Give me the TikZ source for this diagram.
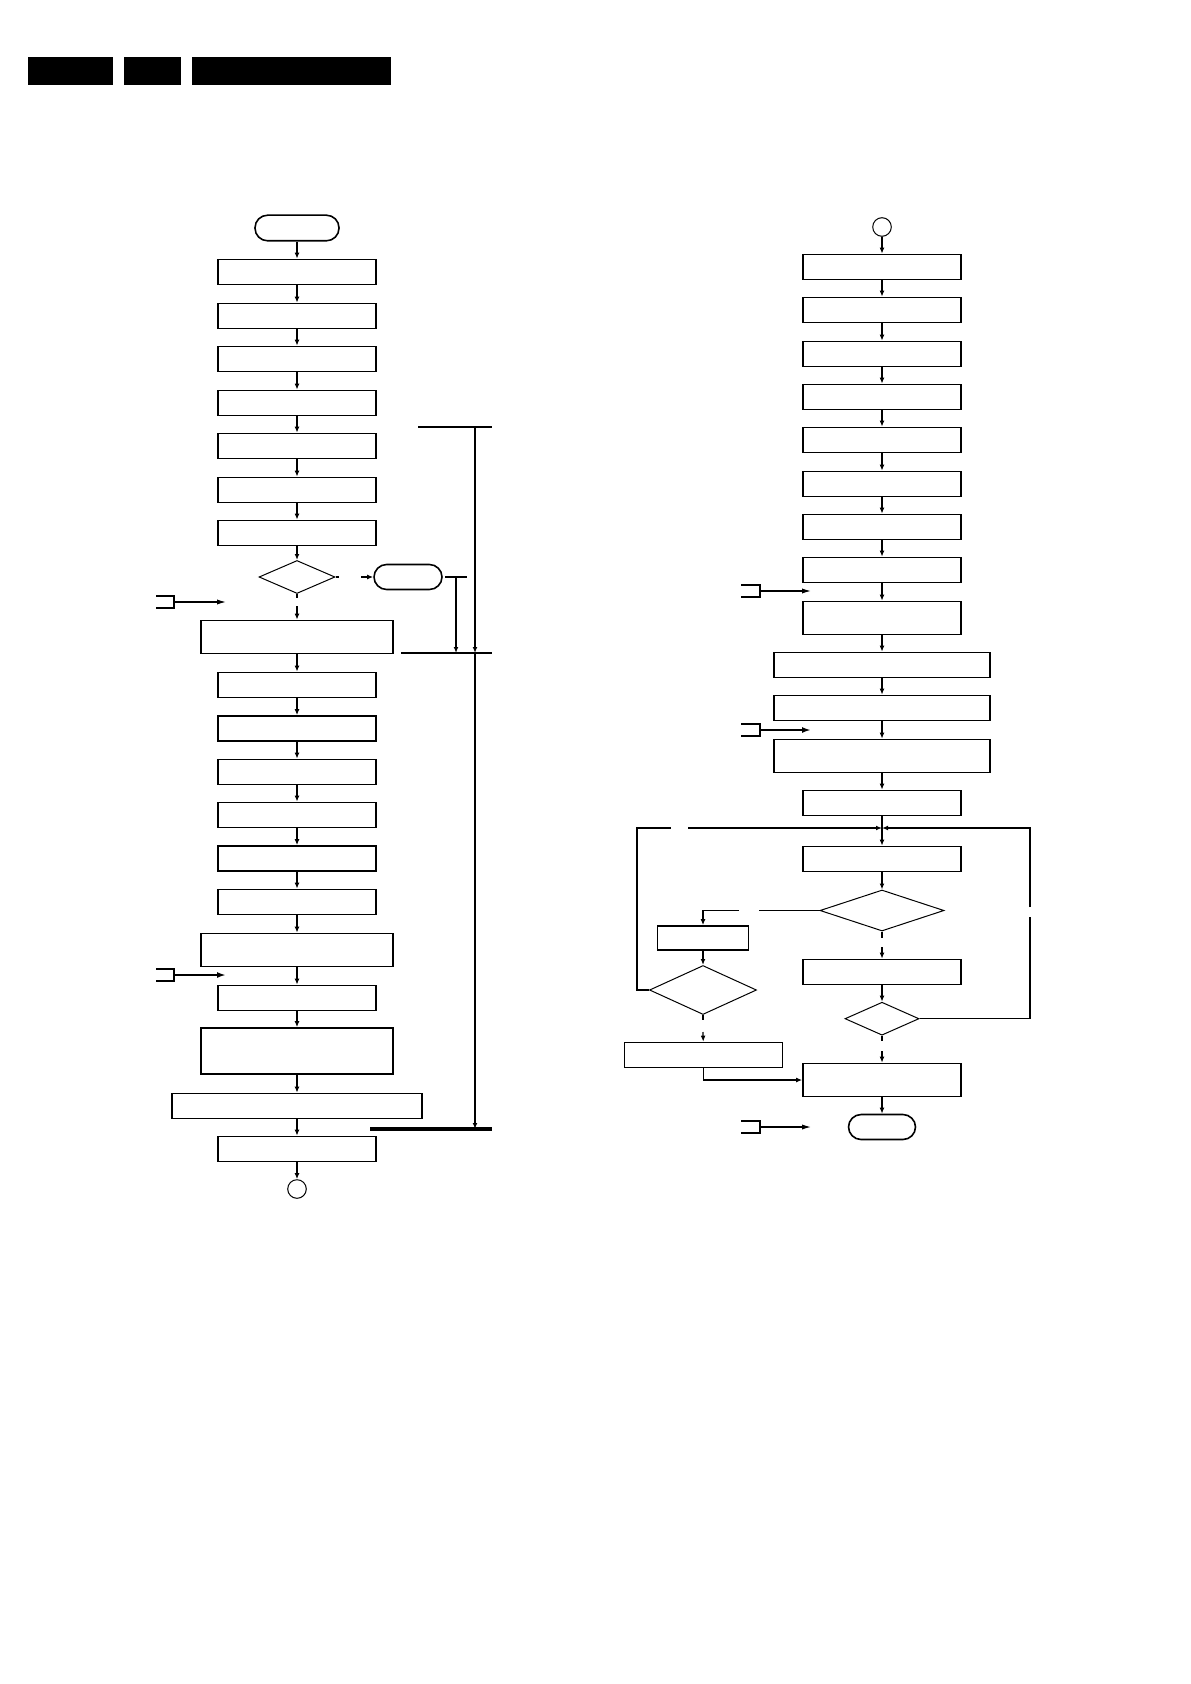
\documentclass[tikz,border=0pt]{standalone}
\usetikzlibrary{positioning, arrows.meta, shapes.geometric}

\tikzset{
  stepbox/.style={draw, line width=0.8pt, minimum width=79pt, minimum height=12.5pt, inner sep=0pt},
  widebox/.style={stepbox, minimum width=96pt, minimum height=16.5pt},
  termbox/.style={draw, line width=0.8pt, rounded corners=6.3pt, minimum width=42pt, minimum height=12.8pt, inner sep=0pt},
  testbox/.style={draw, diamond, line width=0.5pt, inner sep=0pt},
  joint/.style={draw, circle, line width=0.5pt, minimum size=9.3pt, inner sep=0pt},
  flow/.style={line width=0.6pt, -{Latex[length=3pt, width=2.4pt]}},
  plain/.style={line width=0.6pt},
  inflow/.style={line width=0.6pt, -{Latex[length=4.5pt, width=2.6pt]}},
  thickflow/.style={line width=1.4pt, -{Latex[length=4.5pt, width=3pt]}},
  inmark/.style={line width=0.7pt}
}

\begin{document}
\begin{tikzpicture}[x=0.5pt, y=-0.5pt]
  \useasboundingbox (0,0) rectangle (1190,1684);

  % header bars
  \fill (28,57) rectangle (113,85);
  \fill (124,57) rectangle (181,85);
  \fill (192,57) rectangle (391,85);

  % left column
  \node[termbox] (start) at (297,228) {};
  \node[stepbox] (a1) at (297,272) {};
  \node[stepbox] (a2) at (297,316) {};
  \node[stepbox] (a3) at (297,359) {};
  \node[stepbox] (a4) at (297,403) {};
  \node[stepbox] (a5) at (297,446) {};
  \node[stepbox] (a6) at (297,490) {};
  \node[stepbox] (a7) at (297,533) {};
  \node[testbox, minimum width=38pt, minimum height=16.5pt] (q1) at (297,577) {};
  \node[termbox, minimum width=34pt, minimum height=12.5pt] (stop1) at (408,577) {};
  \node[widebox] (a8) at (297,637) {};
  \node[stepbox] (a9) at (297,685) {};
  \node[stepbox] (a10) at (297,728.5) {};
  \node[stepbox] (a11) at (297,772) {};
  \node[stepbox] (a12) at (297,815) {};
  \node[stepbox] (a13) at (297,858.5) {};
  \node[stepbox] (a14) at (297,902) {};
  \node[widebox] (a15) at (297,950) {};
  \node[stepbox] (a16) at (297,998) {};
  \node[widebox, minimum height=23pt] (a17) at (297,1051) {};
  \node[stepbox, minimum width=125pt] (a18) at (297,1106) {};
  \node[stepbox] (a19) at (297,1149) {};
  \node[joint] (c1) at (297,1189) {};

  \foreach \u/\v in {start/a1, a1/a2, a2/a3, a3/a4, a4/a5, a5/a6, a6/a7, a7/q1,
                     a8/a9, a9/a10, a10/a11, a11/a12, a12/a13, a13/a14, a14/a15,
                     a15/a16, a16/a17, a17/a18, a18/a19, a19/c1}
    \draw[flow] (\u) -- (\v);

  % decision q1
  \coordinate (q1s) at (297,598);
  \coordinate (q1n) at (297,606);
  \coordinate (q1e) at (339,577);
  \coordinate (q1y) at (361,577);
  \draw[plain] (q1.south) -- (q1s);
  \draw[flow] (q1n) -- (a8);
  \draw[plain] (q1.east) -- (q1e);
  \draw[flow] (q1y) -- (stop1);

  % bracket lines on the right
  \coordinate (t1) at (445,577);
  \coordinate (t2) at (467,577);
  \coordinate (t3) at (456,577);
  \coordinate (t4) at (456,653);
  \coordinate (u1) at (418,427);
  \coordinate (u2) at (492,427);
  \coordinate (v1) at (475,427);
  \coordinate (v2) at (475,653);
  \coordinate (v3) at (475,1129);
  \draw[plain] (t1) -- (t2);
  \draw[flow] (t3) -- (t4);
  \draw[plain] (u1) -- (u2);
  \draw[flow] (v1) -- (v2);
  \draw[flow] (v2) -- (v3);
  \draw[plain] (401,653) -- (492,653);
  \draw[line width=1.6pt] (370,1129) -- (492,1129);

  % inputs on the left
  \draw[inmark] (156,596) -| (174,608) -- (156,608);
  \coordinate (m1) at (174,602);
  \coordinate (m1e) at (226,602);
  \draw[inflow] (m1) -- (m1e);
  \draw[inmark] (156,969) -| (174,981) -- (156,981);
  \coordinate (m2) at (174,975);
  \coordinate (m2e) at (226,975);
  \draw[thickflow] (m2) -- (m2e);

  % right column
  \node[joint] (c2) at (882,227) {};
  \node[stepbox] (r1) at (882,267) {};
  \node[stepbox] (r2) at (882,310) {};
  \node[stepbox] (r3) at (882,354) {};
  \node[stepbox] (r4) at (882,397) {};
  \node[stepbox] (r5) at (882,440) {};
  \node[stepbox] (r6) at (882,484) {};
  \node[stepbox] (r7) at (882,527) {};
  \node[stepbox] (r8) at (882,570) {};
  \node[stepbox, minimum height=16.5pt] (r9) at (882,618) {};
  \node[stepbox, minimum width=108pt] (r10) at (882,665) {};
  \node[stepbox, minimum width=108pt] (r11) at (882,708) {};
  \node[stepbox, minimum width=108pt, minimum height=16.5pt] (r12) at (882,756) {};
  \node[stepbox] (r13) at (882,803) {};
  \node[stepbox] (r14) at (882,859) {};
  \node[testbox, minimum width=62pt, minimum height=20.5pt] (q2) at (882,910.5) {};
  \node[stepbox] (r15) at (882,972) {};
  \node[testbox, minimum width=37pt, minimum height=16.5pt] (q4) at (882,1018.7) {};
  \node[stepbox, minimum height=16.5pt] (r16) at (882,1080) {};
  \node[termbox, minimum width=33.5pt, minimum height=12.5pt] (stop2) at (882,1127) {};
  \node[stepbox, minimum width=45.5pt, minimum height=12pt] (l1) at (703,938) {};
  \node[testbox, minimum width=53.5pt, minimum height=24.5pt] (q3) at (703,990) {};
  \node[stepbox] (l2) at (703.5,1055) {};

  \foreach \u/\v in {c2/r1, r1/r2, r2/r3, r3/r4, r4/r5, r5/r6, r6/r7, r7/r8, r8/r9,
                     r9/r10, r10/r11, r11/r12, r12/r13, r13/r14, r14/q2, r15/q4,
                     r16/stop2, l1/q3}
    \draw[flow] (\u) -- (\v);

  % loops back to the junction
  \coordinate (j) at (882,828);
  \coordinate (jl1) at (637,828);
  \coordinate (jl2) at (671,828);
  \coordinate (jl3) at (688,828);
  \coordinate (jr1) at (1030,917);
  \coordinate (jr2) at (1030,907);
  \draw[plain] (q3.west) -| (jl1) -- (jl2);
  \draw[flow] (jl3) -- (j);
  \draw[plain] (q4.east) -| (jr1);
  \draw[flow] (jr2) |- (j);

  % branches of q2, q3, q4
  \coordinate (q2w) at (759,910.5);
  \coordinate (q2x) at (739,910.5);
  \coordinate (q2s) at (882,938);
  \coordinate (q2n) at (882,947);
  \coordinate (q3s) at (703,1020);
  \coordinate (q3n) at (703,1032);
  \coordinate (q4s) at (882,1041);
  \coordinate (q4n) at (882,1051);
  \draw[plain] (q2.west) -- (q2w);
  \draw[flow] (q2x) -| (l1);
  \draw[plain] (q2.south) -- (q2s);
  \draw[flow] (q2n) -- (r15);
  \draw[plain] (q3.south) -- (q3s);
  \draw[flow] (q3n) -- (l2);
  \draw[plain] (q4.south) -- (q4s);
  \draw[flow] (q4n) -- (r16);
  \draw[flow] (l2.south) |- (r16.west);

  % inputs on the right
  \draw[inmark] (741,585) -| (760,597) -- (741,597);
  \coordinate (m3) at (760,591);
  \coordinate (m3e) at (811,591);
  \draw[inflow] (m3) -- (m3e);
  \draw[inmark] (741,724) -| (760,736) -- (741,736);
  \coordinate (m4) at (760,730);
  \coordinate (m4e) at (811,730);
  \draw[thickflow] (m4) -- (m4e);
  \draw[inmark] (741,1121) -| (760,1133) -- (741,1133);
  \coordinate (m5) at (760,1127);
  \coordinate (m5e) at (811,1127);
  \draw[inflow] (m5) -- (m5e);
\end{tikzpicture}
\end{document}
